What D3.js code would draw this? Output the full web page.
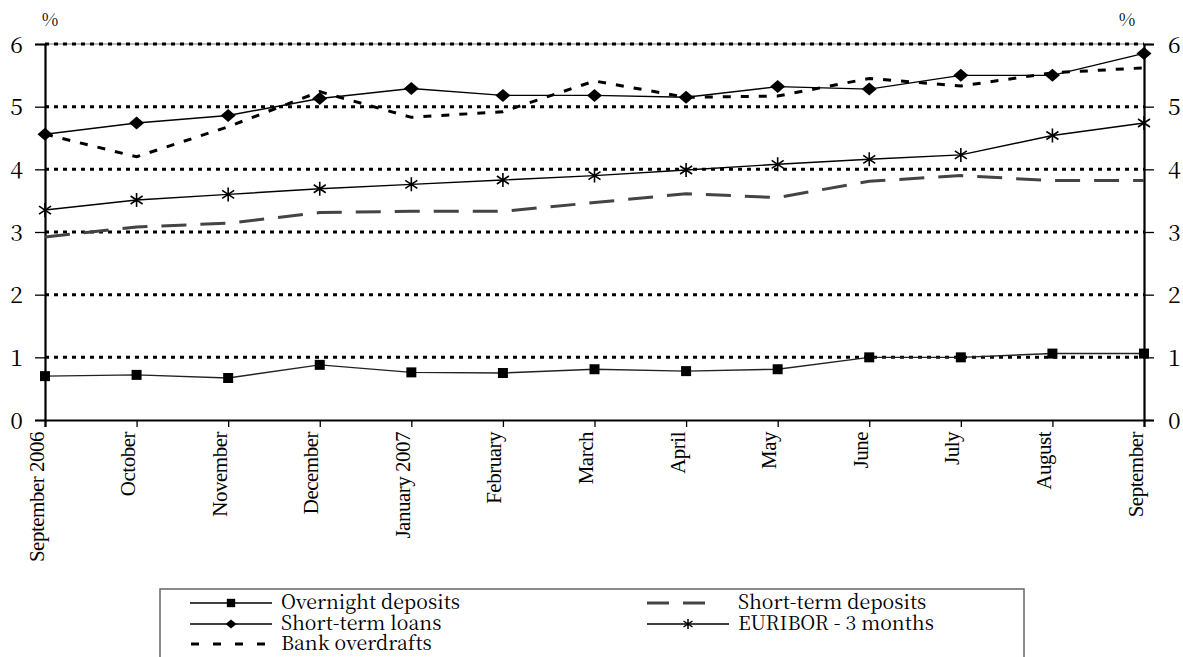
<!DOCTYPE html>
<html><head><meta charset="utf-8">
<script src="https://cdn.jsdelivr.net/npm/d3@7"></script>
<style>
body{margin:0;background:#fff;}
svg{display:block;}
</style></head>
<body>
<svg id="chart" width="1183" height="657"></svg>
<script>
const months = ["September 2006","October","November","December","January 2007","February","March","April","May","June","July","August","September"];
const overnight = [0.70,0.72,0.67,0.88,0.76,0.75,0.81,0.78,0.81,1.00,1.00,1.06,1.06];
const loans = [4.56,4.74,4.86,5.13,5.29,5.18,5.18,5.15,5.32,5.28,5.50,5.50,5.85];
const overdrafts = [4.56,4.20,4.68,5.24,4.83,4.92,5.41,5.15,5.17,5.45,5.33,5.54,5.62];
const euribor = [3.35,3.51,3.60,3.69,3.76,3.83,3.90,3.99,4.08,4.16,4.23,4.54,4.74];
const stDeposits = [2.92,3.08,3.14,3.31,3.33,3.33,3.47,3.61,3.55,3.81,3.90,3.82,3.82];
const yTicks = [0,1,2,3,4,5,6];
const legendLabels = ["Overnight deposits","Short-term deposits","Short-term loans","EURIBOR - 3 months","Bank overdrafts"];

const SERIF = "'Liberation Serif'";
const LEGF = "'Noto Serif CJK SC'";
const svg = d3.select("#chart");
const L = 45, R = 1144, T = 44, B = 420;
const x = d3.scalePoint().domain(months).range([L, R]);
const y = d3.scaleLinear().domain([0, 6]).range([B, T]);

// top border line
svg.append("line").attr("x1",L).attr("x2",R).attr("y1",y(6)).attr("y2",y(6))
  .attr("stroke","#777").attr("stroke-width",1);
// gridlines
svg.append("g").selectAll("line").data(yTicks.filter(d=>d>0)).join("line")
  .attr("x1",L).attr("x2",R).attr("y1",d=>y(d)).attr("y2",d=>y(d))
  .attr("stroke","#000").attr("stroke-width",3).attr("stroke-dasharray","4,5");

// axes
const axL = svg.append("g").attr("transform",`translate(${L},0)`)
  .call(d3.axisLeft(y).tickValues(yTicks).tickFormat(d3.format("d")).tickSize(10).tickPadding(12));
const axR = svg.append("g").attr("transform",`translate(${R},0)`)
  .call(d3.axisRight(y).tickValues(yTicks).tickFormat(d3.format("d")).tickSize(10).tickPadding(14));
const axB = svg.append("g").attr("transform",`translate(0,${B})`)
  .call(d3.axisBottom(x).tickSize(7));
[axL,axR,axB].forEach(a=>{
  a.select(".domain").attr("stroke","#000").attr("stroke-width",2.2);
  a.selectAll(".tick line").attr("stroke","#000").attr("stroke-width",1.3);
});
axL.selectAll(".tick text").style("font-family",LEGF).attr("font-size",23).attr("dy","0.36em").attr("fill","#000");
axR.selectAll(".tick text").style("font-family",LEGF).attr("font-size",23).attr("dy","0.36em").attr("fill","#000");
axB.selectAll(".tick text")
  .style("font-family",SERIF).attr("fill","#000")
  .attr("font-size",21).attr("letter-spacing","-0.5")
  .attr("text-anchor","end").attr("transform","rotate(-90)")
  .attr("x",-12).attr("y",-2).attr("dy","0");

// % labels
svg.append("text").style("font-family",LEGF).attr("fill","#000").attr("x",50).attr("y",26).attr("text-anchor","middle").attr("font-size",18).text("%");
svg.append("text").style("font-family",LEGF).attr("fill","#000").attr("x",1127).attr("y",26).attr("text-anchor","middle").attr("font-size",18).text("%");

const line = d3.line().x((d,i)=>x(months[i])).y(d=>y(d));

// series
svg.append("path").datum(stDeposits).attr("d",line).attr("fill","none")
  .attr("stroke","#444").attr("stroke-width",3).attr("stroke-dasharray","25,14");
svg.append("path").datum(overdrafts).attr("d",line).attr("fill","none")
  .attr("stroke","#000").attr("stroke-width",3).attr("stroke-dasharray","8,10");
svg.append("path").datum(overnight).attr("d",line).attr("fill","none").attr("stroke","#222").attr("stroke-width",1.4);
svg.append("path").datum(loans).attr("d",line).attr("fill","none").attr("stroke","#000").attr("stroke-width",1.4);
svg.append("path").datum(euribor).attr("d",line).attr("fill","none").attr("stroke","#000").attr("stroke-width",1.4);

const sq = d3.symbol().type(d3.symbolSquare).size(100);
const dia = "M0,-6.5L7.5,0L0,6.5L-7.5,0Z";
const star = "M0,-7V7M-6,-4L6,4M-6,4L6,-4";

svg.append("g").selectAll("path").data(overnight).join("path")
  .attr("transform",(d,i)=>`translate(${x(months[i])},${y(d)})`).attr("d",sq).attr("fill","#000");
svg.append("g").selectAll("path").data(loans).join("path")
  .attr("transform",(d,i)=>`translate(${x(months[i])},${y(d)})`).attr("d",dia).attr("fill","#000");
svg.append("g").selectAll("path").data(euribor).join("path")
  .attr("transform",(d,i)=>`translate(${x(months[i])},${y(d)})`).attr("d",star)
  .attr("fill","none").attr("stroke","#000").attr("stroke-width",1.6);

// legend
const lg = svg.append("g");
lg.append("rect").attr("x",160).attr("y",589).attr("width",864).attr("height",90)
  .attr("fill","none").attr("stroke","#666").attr("stroke-width",1.5);
const items = [
  {label:legendLabels[0], col:0, row:0, kind:"square"},
  {label:legendLabels[1], col:1, row:0, kind:"longdash"},
  {label:legendLabels[2], col:0, row:1, kind:"diamond"},
  {label:legendLabels[3], col:1, row:1, kind:"star"},
  {label:legendLabels[4], col:0, row:2, kind:"shortdash"}
];
const colX = [190, 647], rowY = [603, 624, 644];
items.forEach(it=>{
  const x0 = colX[it.col], yy = rowY[it.row];
  const g = lg.append("g");
  if (it.kind==="longdash") {
    g.append("line").attr("x1",x0).attr("x2",x0+72).attr("y1",yy).attr("y2",yy)
      .attr("stroke","#444").attr("stroke-width",3).attr("stroke-dasharray","22,14");
  } else if (it.kind==="shortdash") {
    g.append("line").attr("x1",x0+1).attr("x2",x0+82).attr("y1",yy).attr("y2",yy)
      .attr("stroke","#000").attr("stroke-width",3).attr("stroke-dasharray","8,14");
  } else {
    g.append("line").attr("x1",x0).attr("x2",x0+82).attr("y1",yy).attr("y2",yy)
      .attr("stroke","#000").attr("stroke-width",1.4);
    const m = g.append("path").attr("transform",`translate(${x0+41},${yy})`);
    if (it.kind==="square") m.attr("d",d3.symbol().type(d3.symbolSquare).size(70)).attr("fill","#000");
    if (it.kind==="diamond") m.attr("d","M0,-4.5L5.5,0L0,4.5L-5.5,0Z").attr("fill","#000");
    if (it.kind==="star") m.attr("d","M0,-5V5M-4.5,-3L4.5,3M-4.5,3L4.5,-3").attr("fill","none").attr("stroke","#000").attr("stroke-width",1.5);
  }
  g.append("text").style("font-family",LEGF).attr("fill","#000").attr("x",x0+91).attr("y",yy+6).attr("font-size",19.5).text(it.label);
});
</script>
</body></html>
